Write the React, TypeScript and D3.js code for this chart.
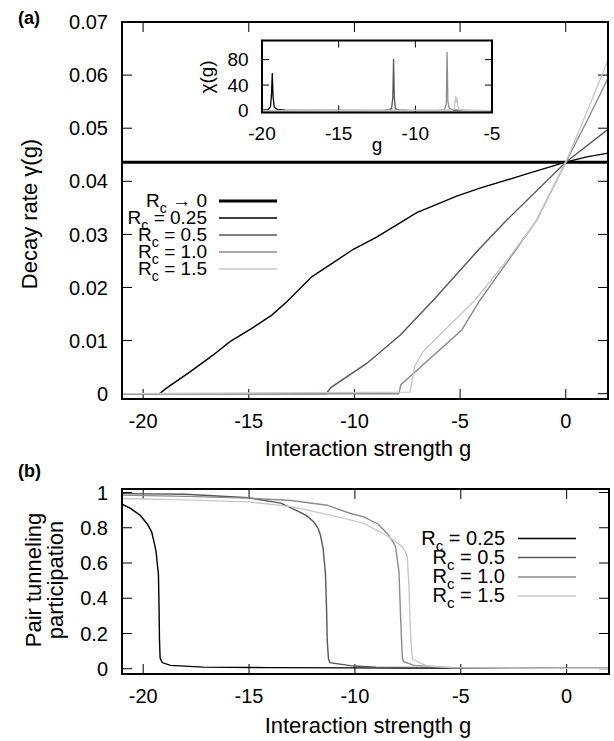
import { useEffect, useRef } from "react";
import * as d3 from "d3";

// ---- panel (a): decay rate gamma(g) ----
const gammaZero = 0.0436; // R_c -> 0 limit, constant
const gamma025: [number, number][] = [
  [-21, 0], [-19.23, 0], [-18.88, 0.0011], [-17.78, 0.0041], [-16.68, 0.0073],
  [-15.89, 0.0098], [-14.86, 0.0123], [-13.91, 0.0148], [-13.2, 0.0173],
  [-12.02, 0.022], [-10.05, 0.0272], [-8.95, 0.0295], [-7.05, 0.0341],
  [-5.16, 0.0372], [-4.06, 0.0387], [-2, 0.0412], [0, 0.0436], [1, 0.0446], [2, 0.0453],
];
const gamma05: [number, number][] = [
  [-21, 0], [-11.35, 0], [-11.1, 0.0012], [-9.42, 0.0057], [-7.84, 0.011],
  [-6.27, 0.0176], [-4.06, 0.0274], [-2.79, 0.0327], [0, 0.0436], [2, 0.0498],
];
const gamma10: [number, number][] = [
  [-21, 0], [-7.9, 0], [-7.8, 0.0017], [-4.92, 0.012], [-4.06, 0.0176],
  [-3, 0.0235], [-1.37, 0.0327], [0, 0.0436], [1, 0.0513], [2, 0.0594],
];
const gamma15: [number, number][] = [
  [-21, 0], [-7.37, 0.0003], [-7.15, 0.0051], [-6.76, 0.0079], [-4.3, 0.0176],
  [-2.8, 0.025], [-1.37, 0.0327], [0, 0.0436], [1, 0.053], [2, 0.0628],
];

// inset: chi(g)
const chi025: [number, number][] = [
  [-20, 0.5], [-19.6, 1.5], [-19.45, 6], [-19.38, 25], [-19.33, 59], [-19.28, 22],
  [-19.2, 5], [-19, 2], [-18.5, 0.8], [-17, 0.3], [-5, 0.1],
];
const chi05: [number, number][] = [
  [-20, 0], [-12, 0.3], [-11.7, 1.5], [-11.55, 3], [-11.47, 20], [-11.42, 81],
  [-11.37, 20], [-11.3, 3], [-11.1, 1], [-10.5, 0.3], [-5, 0],
];
const chi10: [number, number][] = [
  [-20, 0], [-8.5, 0.3], [-8.1, 1.5], [-7.98, 10], [-7.93, 92], [-7.88, 15],
  [-7.8, 4], [-7.6, 2], [-7.3, 1], [-6.5, 0.3], [-5, 0],
];
const chi15: [number, number][] = [
  [-20, 0], [-7.6, 0.5], [-7.45, 3], [-7.4, 17], [-7.36, 23], [-7.32, 12],
  [-7.28, 20], [-7.22, 5], [-7.1, 1.5], [-6.8, 0.5], [-5, 0],
];

// ---- panel (b): pair tunneling participation ----
const pair025: [number, number][] = [
  [-21, 0.934], [-20.6, 0.91], [-20.15, 0.872], [-19.8, 0.82], [-19.6, 0.777],
  [-19.45, 0.7], [-19.39, 0.664], [-19.32, 0.58], [-19.28, 0.537], [-19.25, 0.35],
  [-19.23, 0.165], [-19.2, 0.06], [-19.1, 0.035], [-18.72, 0.019], [-17.15, 0.009],
  [-14, 0.006], [-10, 0.005], [-5, 0.003], [0, 0.002], [2, 0.002],
];
const pair05: [number, number][] = [
  [-21, 0.994], [-18, 0.99], [-15.02, 0.97], [-13.5, 0.94], [-12.89, 0.906],
  [-12.3, 0.87], [-11.95, 0.834], [-11.75, 0.8], [-11.63, 0.759], [-11.5, 0.68],
  [-11.39, 0.537], [-11.33, 0.3], [-11.31, 0.165], [-11.25, 0.06], [-11.19, 0.034],
  [-10.05, 0.015], [-9, 0.008], [-5, 0.004], [0, 0.002], [2, 0.002],
];
const pair10: [number, number][] = [
  [-21, 0.985], [-18, 0.978], [-15, 0.968], [-13, 0.955], [-11.31, 0.928],
  [-10.21, 0.881], [-9.58, 0.862], [-8.9, 0.82], [-8.47, 0.768], [-8.2, 0.72],
  [-8.08, 0.693], [-7.92, 0.551], [-7.84, 0.288], [-7.8, 0.165], [-7.76, 0.062],
  [-7.7, 0.04], [-7.21, 0.019], [-5.32, 0.006], [0, 0.002], [2, 0.002],
];
const pair15: [number, number][] = [
  [-21, 0.966], [-18, 0.958], [-15.02, 0.947], [-13, 0.92], [-11.16, 0.872],
  [-10.21, 0.845], [-9.58, 0.825], [-8.4, 0.749], [-7.76, 0.693], [-7.6, 0.66],
  [-7.53, 0.636], [-7.45, 0.476], [-7.37, 0.194], [-7.29, 0.053], [-6.58, 0.015],
  [-5.5, 0.006], [0, 0.002], [2, 0.002],
];

const gTicks = [-20, -15, -10, -5, 0];
const gammaTicks = [0, 0.01, 0.02, 0.03, 0.04, 0.05, 0.06, 0.07];
const pairTicks = [0, 0.2, 0.4, 0.6, 0.8, 1];
const insetXTicks = [-20, -15, -10, -5];
const insetYTicks = [0, 40, 80];

const rcLabels = [" = 0.25", " = 0.5", " = 1.0", " = 1.5"];
const colors = ["#000000", "#585858", "#8c8c8c", "#c8c8c8"];

const FONT = "'Liberation Sans', Arial, Helvetica, sans-serif";

function drawFrame(g: any, x: any, y: any, xt: number[], yt: number[], fmtY: (v: number) => string, tick: number, size: number) {
  const [x0, x1] = x.range();
  const [y0, y1] = y.range(); // y0 bottom
  xt.forEach((v) => {
    g.append("line").attr("x1", x(v)).attr("x2", x(v)).attr("y1", y0).attr("y2", y0 - tick).attr("stroke", "#000");
    g.append("line").attr("x1", x(v)).attr("x2", x(v)).attr("y1", y1).attr("y2", y1 + tick).attr("stroke", "#000");
    g.append("text").attr("x", x(v)).attr("y", y0 + size * 1.45).attr("text-anchor", "middle")
      .attr("font-size", size).text(String(v));
  });
  yt.forEach((v) => {
    g.append("line").attr("x1", x0).attr("x2", x0 + tick).attr("y1", y(v)).attr("y2", y(v)).attr("stroke", "#000");
    g.append("line").attr("x1", x1).attr("x2", x1 - tick).attr("y1", y(v)).attr("y2", y(v)).attr("stroke", "#000");
    g.append("text").attr("x", x0 - size * 0.7).attr("y", y(v) + size * 0.36).attr("text-anchor", "end")
      .attr("font-size", size).text(fmtY(v));
  });
}

function rcText(g: any, x: number, y: number, rest: string, size: number) {
  const t = g.append("text").attr("x", x).attr("y", y).attr("text-anchor", "end")
    .attr("font-size", size).style("white-space", "pre");
  t.append("tspan").text("R");
  t.append("tspan").attr("dy", size * 0.3).attr("font-size", size * 0.75).text("c");
  t.append("tspan").attr("dy", -size * 0.3).text(rest);
}

function Chart() {
  const ref = useRef<SVGSVGElement>(null);

  useEffect(() => {
    const svg = d3.select(ref.current);
    svg.selectAll("*").remove();
    svg.attr("font-family", FONT);
    const TS = 20;
    const LS = 22;

    // ---------- panel (a) ----------
    const xa = d3.scaleLinear().domain([-21, 2]).range([122, 608]);
    const ya = d3.scaleLinear().domain([-0.001, 0.07]).range([399, 22]);
    const defs = svg.append("defs");
    defs.append("clipPath").attr("id", "clipA").append("rect")
      .attr("x", 122).attr("y", 22).attr("width", 486).attr("height", 377);
    defs.append("clipPath").attr("id", "clipB").append("rect")
      .attr("x", 122).attr("y", 489).attr("width", 487).attr("height", 185);
    defs.append("clipPath").attr("id", "clipI").append("rect")
      .attr("x", 262).attr("y", 40).attr("width", 230).attr("height", 72);

    const ga = svg.append("g");
    drawFrame(ga, xa, ya, gTicks, gammaTicks, (v) => (v === 0 ? "0" : d3.format(".2f")(v)), 10, TS);

    const lineA = d3.line<[number, number]>().x((d) => xa(d[0])).y((d) => ya(d[1]));
    const curvesA = ga.append("g").attr("clip-path", "url(#clipA)").attr("fill", "none");
    curvesA.append("path").attr("d", lineA([[-21, gammaZero], [2, gammaZero]]))
      .attr("stroke", "#000").attr("stroke-width", 3);
    [gamma025, gamma05, gamma10, gamma15].forEach((s, i) => {
      curvesA.append("path").attr("d", lineA(s)).attr("stroke", colors[i]).attr("stroke-width", 1.4);
    });

    ga.append("rect").attr("x", 122).attr("y", 22).attr("width", 486).attr("height", 377)
      .attr("fill", "none").attr("stroke", "#000").attr("stroke-width", 2);

    ga.append("text").attr("x", 368).attr("y", 456).attr("text-anchor", "middle")
      .attr("font-size", LS).text("Interaction strength g");
    ga.append("text").attr("transform", "translate(37,214) rotate(-90)").attr("text-anchor", "middle")
      .attr("font-size", LS).text("Decay rate \u03b3(g)");
    ga.append("text").attr("x", 18).attr("y", 24).attr("font-size", 18).attr("font-weight", "bold").text("(a)");

    // legend (a)
    const legA = ga.append("g");
    const rowsA = [201, 218, 235, 252, 269];
    rcText(legA, 207, rowsA[0] + 6, " \u2192 0", 19);
    legA.append("line").attr("x1", 219).attr("x2", 277).attr("y1", rowsA[0]).attr("y2", rowsA[0])
      .attr("stroke", "#000").attr("stroke-width", 3);
    rcLabels.forEach((lab, i) => {
      rcText(legA, 207, rowsA[i + 1] + 6, lab, 19);
      legA.append("line").attr("x1", 219).attr("x2", 277).attr("y1", rowsA[i + 1]).attr("y2", rowsA[i + 1])
        .attr("stroke", colors[i]).attr("stroke-width", 1.4);
    });

    // inset
    const xi = d3.scaleLinear().domain([-20, -5]).range([262, 492]);
    const yi = d3.scaleLinear().domain([-3, 110]).range([112.5, 40.5]);
    const gi = ga.append("g");
    gi.append("rect").attr("x", 262).attr("y", 40.5).attr("width", 230).attr("height", 72).attr("fill", "#fff");
    drawFrame(gi, xi, yi, insetXTicks, insetYTicks, (v) => String(v), 7, 19);
    const lineI = d3.line<[number, number]>().x((d) => xi(d[0])).y((d) => yi(d[1]));
    const curvesI = gi.append("g").attr("clip-path", "url(#clipI)").attr("fill", "none");
    [chi025, chi05, chi10, chi15].forEach((s, i) => {
      curvesI.append("path").attr("d", lineI(s)).attr("stroke", colors[i]).attr("stroke-width", 1.3);
    });
    gi.append("rect").attr("x", 262).attr("y", 40.5).attr("width", 230).attr("height", 72)
      .attr("fill", "none").attr("stroke", "#000").attr("stroke-width", 2);
    gi.append("text").attr("x", 377).attr("y", 151).attr("text-anchor", "middle").attr("font-size", 19).text("g");
    gi.append("text").attr("transform", "translate(213,77) rotate(-90)").attr("text-anchor", "middle")
      .attr("font-size", 19).text("\u03c7(g)");

    // ---------- panel (b) ----------
    const xb = d3.scaleLinear().domain([-21, 2]).range([122, 609]);
    const yb = d3.scaleLinear().domain([-0.03, 1.02]).range([674, 489]);
    const gb = svg.append("g");
    drawFrame(gb, xb, yb, gTicks, pairTicks, (v) => String(v), 10, TS);
    const lineB = d3.line<[number, number]>().x((d) => xb(d[0])).y((d) => yb(d[1]));
    const curvesB = gb.append("g").attr("clip-path", "url(#clipB)").attr("fill", "none");
    [pair025, pair05, pair10, pair15].forEach((s, i) => {
      curvesB.append("path").attr("d", lineB(s)).attr("stroke", colors[i]).attr("stroke-width", 1.4);
    });
    gb.append("rect").attr("x", 122).attr("y", 489).attr("width", 487).attr("height", 185)
      .attr("fill", "none").attr("stroke", "#000").attr("stroke-width", 2);

    gb.append("text").attr("x", 368).attr("y", 733).attr("text-anchor", "middle")
      .attr("font-size", LS).text("Interaction strength g");
    const yl = gb.append("text").attr("transform", "translate(0,580) rotate(-90)").attr("text-anchor", "middle")
      .attr("font-size", LS);
    yl.append("tspan").attr("x", 0).attr("y", 41).text("Pair tunneling");
    yl.append("tspan").attr("x", 0).attr("y", 63).text("participation");
    gb.append("text").attr("x", 18).attr("y", 477).attr("font-size", 18).attr("font-weight", "bold").text("(b)");

    const rowsB = [538.5, 557.5, 577, 596];
    rcText(gb, 505, rowsB[0] + 6, rcLabels[0], TS);
    rcLabels.forEach((lab, i) => {
      if (i > 0) rcText(gb, 505, rowsB[i] + 6, lab, TS);
      gb.append("line").attr("x1", 518).attr("x2", 576).attr("y1", rowsB[i]).attr("y2", rowsB[i])
        .attr("stroke", colors[i]).attr("stroke-width", 1.4);
    });
  }, []);

  return <svg ref={ref} width={614} height={741} style={{ position: "absolute", left: 0, top: 0, background: "#fff" }} />;
}

export default function App() {
  return <Chart />;
}
